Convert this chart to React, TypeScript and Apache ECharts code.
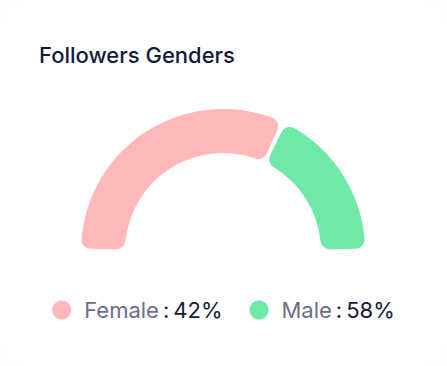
import React, { useEffect, useRef } from "react";
import * as echarts from "echarts";

const categories = ["Female", "Male"];
const legendPercents = [42, 58];
// arc shares as drawn in the picture (angle of each segment out of the half circle)
const arcShares = [64, 36];
const colors = ["#FFB8B9", "#6EE9A8"];

export default function App() {
  const ref = useRef<HTMLDivElement>(null);
  useEffect(() => {
    document.body.style.margin = "0";
    const chart = echarts.init(ref.current!, undefined, { renderer: "svg" });
    chart.setOption({
      animation: false,
      backgroundColor: "#ffffff",
      title: {
        text: "Followers Genders",
        left: 34,
        top: 39,
        textStyle: {
          fontFamily: "Inter",
          fontSize: 22,
          fontWeight: 500,
          color: "#141A3A",
        },
      },
      legend: {
        data: categories,
        left: "center",
        top: 294,
        icon: "circle",
        itemWidth: 19,
        itemHeight: 19,
        itemGap: 27,
        formatter: (name: string) => {
          const i = categories.indexOf(name);
          return `{n|${name}}{c|:}{v|${legendPercents[i]}%}`;
        },
        textStyle: {
          fontFamily: "Inter",
          rich: {
            n: { fontSize: 22, color: "#6E6D88", fontFamily: "Inter", padding: [0, 0, 0, 8] },
            c: { fontSize: 22, color: "#141A3A", fontFamily: "Inter", padding: [0, 4, 0, 4] },
            v: { fontSize: 22, color: "#141A3A", fontFamily: "Inter" },
          },
        },
      },
      series: [
        {
          type: "pie",
          center: [223, 251],
          radius: [98, 142],
          startAngle: 180,
          endAngle: 0,
          padAngle: 2,
          label: { show: false },
          labelLine: { show: false },
          emphasis: { disabled: true },
          itemStyle: { borderRadius: 9 },
          data: categories.map((c, i) => ({
            name: c,
            value: arcShares[i],
            itemStyle: { color: colors[i] },
          })),
        },
      ],
    });
    return () => chart.dispose();
  }, []);
  return (
    <div
      style={{
        width: 447,
        height: 366,
        borderRadius: 20,
        overflow: "hidden",
        boxShadow: "inset 0 0 0 1px #f6f6f6",
      }}
    >
      <div ref={ref} style={{ width: 447, height: 366 }} />
    </div>
  );
}
